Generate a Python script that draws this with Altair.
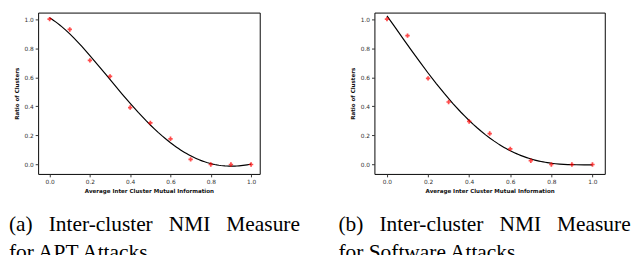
import altair as alt
import pandas as pd

x_vals = [0.0, 0.1, 0.2, 0.3, 0.4, 0.5, 0.6, 0.7, 0.8, 0.9, 1.0]
apt_ratio = [1.0, 0.929, 0.716, 0.606, 0.392, 0.286, 0.177, 0.035, 0.0, 0.0, 0.0]
sw_ratio = [1.0, 0.887, 0.593, 0.430, 0.296, 0.213, 0.107, 0.026, 0.0, 0.0, 0.0]
tick_vals = [0.0, 0.2, 0.4, 0.6, 0.8, 1.0]
x_title = "Average Inter Cluster Mutual Information"
y_title = "Ratio of Clusters"
cap_a = ["(a)", "Inter-cluster", "NMI", "Measure"]
cap_a2 = "for APT Attacks"
cap_b = ["(b)", "Inter-cluster", "NMI", "Measure"]
cap_b2 = "for Software Attacks"

GAP = "\u00a0\u00a0\u00a0"

AX = dict(grid=False, domain=False, labelFont="DejaVu Sans", labelFontSize=6,
          labelColor="#333333", tickSize=3, tickColor="#333333",
          titleFont="DejaVu Sans", titleFontWeight="bold", titleFontSize=5.7,
          titleColor="#111111")


def caption(text, dx, y):
    return alt.Chart(pd.DataFrame({"t": [text]})).mark_text(
        align="left", baseline="alphabetic", font="Liberation Serif", fontSize=22,
        color="black"
    ).encode(x=alt.value(dx), y=alt.value(y), text="t:N")


def panel(yvals, xdomain, width, words, line2, cap_dx):
    df = pd.DataFrame({"xv": x_vals, "yv": yvals})
    base = alt.Chart(df)
    xenc = alt.X("xv:Q", scale=alt.Scale(domain=xdomain, nice=False, zero=False),
                 axis=alt.Axis(values=tick_vals, format=".1f", title=x_title,
                               labelPadding=2, titlePadding=3, **AX))
    yenc = alt.Y("yv:Q", scale=alt.Scale(domain=[-0.065, 1.045], nice=False, zero=False),
                 axis=alt.Axis(values=tick_vals, format=".1f", title=y_title,
                               labelPadding=2, titlePadding=5, **AX))
    line = base.transform_regression("xv", "yv", method="poly", order=4).mark_line(
        color="black", strokeWidth=1.2).encode(x=xenc, y=yenc)
    pts = base.mark_point(shape="cross", filled=True, color="#ff0000", size=20).encode(x=xenc, y=yenc)
    c1 = caption(GAP.join(words), cap_dx, 225)
    c2 = caption(line2, cap_dx, 253)
    return alt.layer(line, pts, c1, c2).properties(width=width, height=166)


left = panel(apt_ratio, [-0.057, 1.043], 228, cap_a, cap_a2, -30)
right = panel(sw_ratio, [-0.061, 1.060], 237, cap_b, cap_b2, -37)

chart = alt.hconcat(left, right, spacing=38).properties(padding=0).configure_view(stroke="black")

chart.save("out.html", embed_options={"renderer": "svg", "actions": False})
